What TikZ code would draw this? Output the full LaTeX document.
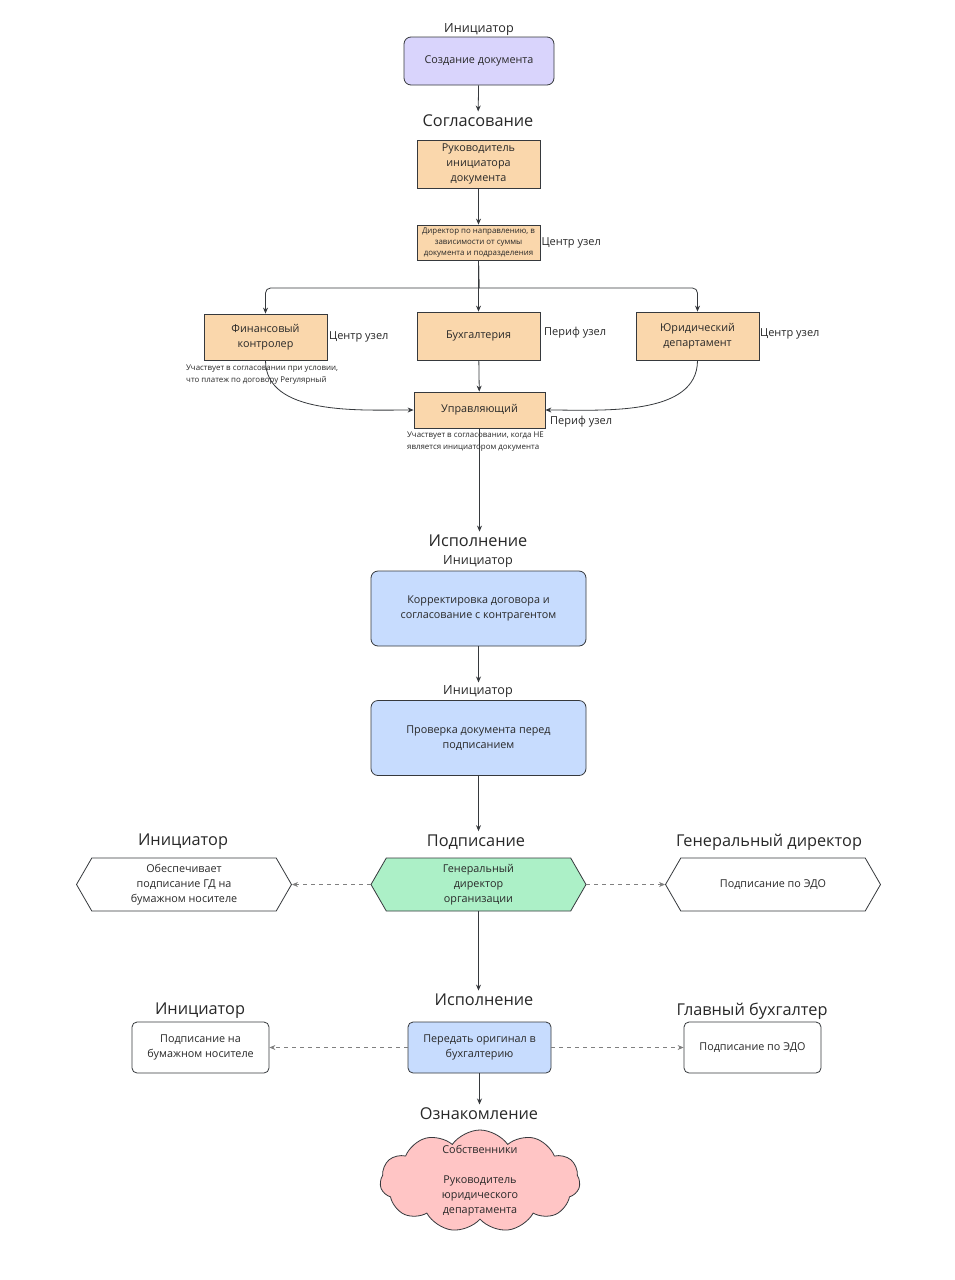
\documentclass[tikz,border=0pt]{standalone}
\usepackage{fontspec}
\setmainfont{Open Sans}
\usetikzlibrary{arrows.meta, shapes.geometric, shapes.symbols, positioning}
\definecolor{initLilac}{RGB}{217,212,252}
\definecolor{soglPeach}{RGB}{250,215,172}
\definecolor{ispBlue}{RGB}{199,220,254}
\definecolor{signGreen}{RGB}{172,240,199}
\definecolor{oznPink}{RGB}{255,197,197}
\definecolor{lineGray}{RGB}{54,57,61}
\definecolor{textGray}{RGB}{40,40,40}

\tikzset{
  basebox/.style={draw=lineGray, line width=0.8pt, align=center, inner sep=0pt, text=textGray,
    font=\fontsize{10.8}{15}\selectfont},
  soglbox/.style={basebox, fill=soglPeach, minimum width=123, minimum height=48},
  ispbox/.style={basebox, fill=ispBlue, rounded corners=7, minimum width=215, minimum height=75},
  whitebox/.style={basebox, fill=white, rounded corners=5, minimum width=137, minimum height=51},
  hexbox/.style={basebox, shape=signal, signal to=west and east, signal pointer angle=120,
    minimum width=215, minimum height=53},
  stagehead/.style={font=\fontsize{16.3}{19}\selectfont, text=textGray},
  rolecap/.style={font=\fontsize{12.6}{15}\selectfont, text=textGray},
  nodelbl/.style={font=\fontsize{11}{13}\selectfont, text=textGray, inner sep=1pt},
  note/.style={font=\fontsize{7.9}{12}\selectfont, text=textGray, align=left, inner sep=0pt},
  arr/.style={draw=lineGray, line width=0.8pt, -{Stealth[length=6pt, width=5pt]}},
  dasharr/.style={arr, draw=gray, dash pattern=on 4pt off 4pt}
}

\begin{document}
\begin{tikzpicture}[x=1pt, y=1pt]
  \fill[white] (0,0) rectangle (954,-1280);
  \useasboundingbox (0,0) rectangle (954,-1280);

  % --- создание
  \node[rolecap] (capInitA) at (479,-30) {Инициатор};
  \node[basebox, fill=initLilac, rounded corners=7, minimum width=150, minimum height=48] (create) at (479,-61) {Создание документа};

  % --- согласование
  \node[stagehead] (hSogl) at (478,-121) {Согласование};
  \node[soglbox] (ruk) at (478.5,-164) {Руководитель\\инициатора\\документа};
  \node[soglbox, minimum height=35, font=\fontsize{7.9}{11}\selectfont] (dir) at (478.5,-242.5) {Директор по направлению, в\\зависимости от суммы\\документа и подразделения};
  \node[nodelbl, anchor=west] (dirLbl) at (dir.east) {Центр узел};
  \coordinate (split) at (479,-288);

  \node[soglbox, minimum height=46] (fin) at (265.5,-337) {Финансовый\\контролер};
  \node[nodelbl, anchor=west] (finLbl) at (328,-337) {Центр узел};
  \node[note, anchor=north west] (finNote) at (186,-365) {Участвует в согласовании при условии,\\что платеж по договору Регулярный};

  \node[soglbox] (buh) at (478.5,-336) {Бухгалтерия};
  \node[nodelbl, anchor=west] (buhLbl) at (543,-333) {Периф узел};

  \node[soglbox] (yur) at (697.5,-336) {Юридический\\департамент};
  \node[nodelbl, anchor=west] (yurLbl) at (759,-334) {Центр узел};

  \node[soglbox, minimum width=131, minimum height=36] (upr) at (479.5,-410) {Управляющий};
  \node[nodelbl, anchor=west] (uprLbl) at (549,-422) {Периф узел};
  \node[note, anchor=north west] (uprNote) at (407,-432) {Участвует в согласовании, когда НЕ\\является инициатором документа};

  \draw[arr] (create) -- (hSogl);
  \draw[arr] (ruk) -- (dir);
  \draw[arr] (dir) -- (buh);
  \draw[arr] (dir.south) -- (split) [rounded corners=5] -| (fin.north);
  \draw[arr] (dir.south) -- (split) [rounded corners=5] -| (yur.north);
  \draw[arr] (buh) -- (upr);
  \draw[arr] (fin.south) to[out=-90, in=180, looseness=0.9] (upr.west);
  \draw[arr] (yur.south) to[out=-90, in=0, looseness=0.9] (upr.east);

  % --- исполнение
  \node[stagehead] (hIspA) at (478,-541) {Исполнение};
  \draw[arr] (upr.south) -- (upr.south |- hIspA.north);
  \node[rolecap] (capInitB) at (478,-562) {Инициатор};
  \node[ispbox] (korr) at (478.5,-608.5) {Корректировка договора и\\согласование с контрагентом};
  \node[rolecap] (capInitC) at (478,-692) {Инициатор};
  \draw[arr] (korr.south) -- (korr.south |- capInitC.north);
  \node[ispbox] (prov) at (478.5,-738) {Проверка документа перед\\подписанием};

  % --- подписание
  \node[stagehead] (hPodp) at (476,-842) {Подписание};
  \draw[arr] (prov.south) -- (prov.south |- hPodp.north);
  \node[hexbox, fill=signGreen] (gd) at (478.5,-884.5) {Генеральный\\директор\\организации};
  \node[stagehead] (capInitD) at (183,-842) {Инициатор};
  \node[hexbox, fill=white] (paperA) at (184,-884.5) {Обеспечивает\\подписание ГД на\\бумажном носителе};
  \node[stagehead] (capGd) at (769,-842) {Генеральный директор};
  \node[hexbox, fill=white] (edoA) at (773,-884.5) {Подписание по ЭДО};
  \draw[dasharr] (gd.west) -- (paperA.east);
  \draw[dasharr] (gd.east) -- (edoA.west);

  % --- исполнение (оригинал)
  \node[stagehead] (hIspB) at (484,-1000) {Исполнение};
  \draw[arr] (gd.south) -- (gd.south |- hIspB.north);
  \node[ispbox, rounded corners=5, minimum width=143, minimum height=51] (pered) at (479.5,-1047.5) {Передать оригинал в\\бухгалтерию};
  \node[stagehead] (capInitE) at (200,-1011) {Инициатор};
  \node[whitebox] (paperB) at (200.5,-1047.5) {Подписание на\\бумажном носителе};
  \node[stagehead] (capGb) at (752,-1011) {Главный бухгалтер};
  \node[whitebox] (edoB) at (752.5,-1047.5) {Подписание по ЭДО};
  \draw[dasharr] (pered) -- (paperB);
  \draw[dasharr] (pered) -- (edoB);

  % --- ознакомление
  \node[stagehead] (hOzn) at (479,-1114) {Ознакомление};
  \draw[arr] (pered.south) -- (pered.south |- hOzn.north);
  \node[basebox, shape=cloud, fill=oznPink, cloud puffs=11, cloud puff arc=110, aspect=2,
    inner sep=-14pt, minimum width=200, minimum height=102] (owners) at (480,-1181) {Собственники\\[15pt]Руководитель\\юридического\\департамента};
\end{tikzpicture}
\end{document}
